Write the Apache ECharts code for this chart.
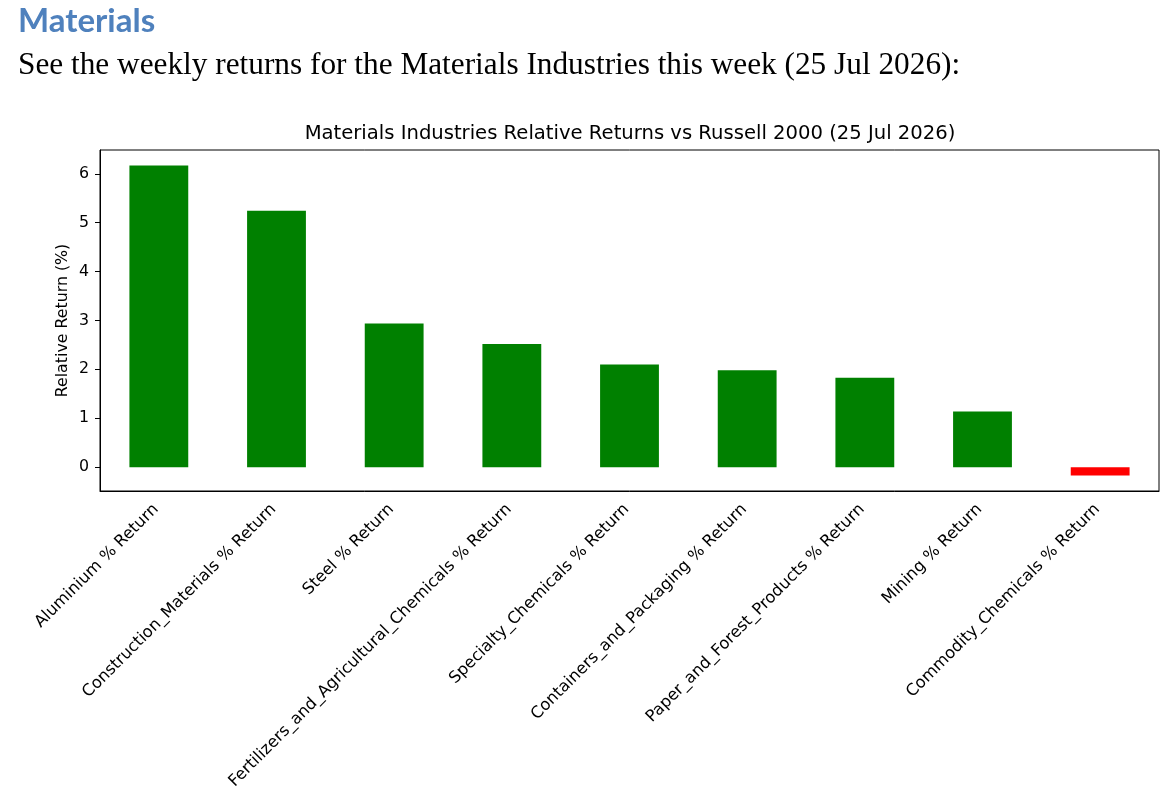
<!DOCTYPE html>
<html>
<head>
<meta charset="utf-8">
<script src="https://cdn.jsdelivr.net/npm/echarts@6/dist/echarts.min.js"></script>
<style>
  html, body { margin: 0; padding: 0; background: #fff; }
  #chart { width: 1168px; height: 806px; }
</style>
</head>
<body>
<div id="chart"></div>
<script>
// weekly relative returns
var categories = [
	'Aluminium % Return',
	'Construction_Materials % Return',
	'Steel % Return',
	'Fertilizers_and_Agricultural_Chemicals % Return',
	'Specialty_Chemicals % Return',
	'Containers_and_Packaging % Return',
	'Paper_and_Forest_Products % Return',
	'Mining % Return',
	'Commodity_Chemicals % Return'
];
var returns = [6.17, 5.245, 2.94, 2.52, 2.10, 1.98, 1.83, 1.14, -0.17];
var yTicks = [0, 1, 2, 3, 4, 5, 6];

var myChart = echarts.init(document.getElementById('chart'));

// matplotlib style 5% margin on the value axis
var lo = Math.min.apply(null, returns.concat([0]));
var hi = Math.max.apply(null, returns.concat([0]));
var pad = (hi - lo) * 0.05;

var barData = returns.map(function (v) {
	return { value: v, itemStyle: { color: v >= 0 ? '#008000' : '#ff0000' } };
});

var font = 'DejaVu Sans';

var option = {
	animation: false,
	backgroundColor: '#fff',
	title: [
		{
			text: 'Materials',
			left: 18, top: 5, padding: 0,
			textStyle: { fontFamily: 'Lato', fontWeight: 'bold', fontSize: 33, color: '#4f81bd' }
		},
		{
			text: 'See the weekly returns for the Materials Industries this week (25 Jul 2026):',
			left: 18, top: 50, padding: 0,
			textStyle: { fontFamily: 'Liberation Serif', fontWeight: 'normal', fontSize: 31.3, color: '#000' }
		},
		{
			text: 'Materials Industries Relative Returns vs Russell 2000 (25 Jul 2026)',
			left: 630, top: 124, textAlign: 'center', padding: 0,
			textStyle: { fontFamily: font, fontWeight: 'normal', fontSize: 19.6, color: '#000' }
		}
	],
	grid: {
		left: 100,
		right: 9,
		top: 150,
		bottom: 315,
		show: true,
		borderColor: '#000',
		borderWidth: 1,
		containLabel: false
	},
	xAxis: {
		type: 'category',
		data: categories,
		boundaryGap: true,
		axisLine: { onZero: false, lineStyle: { color: '#000', width: 1 } },
		axisTick: { alignWithLabel: true, length: 5, lineStyle: { color: '#000' } },
		axisLabel: {
			interval: 0,
			rotate: 45,
			margin: 13,
			padding: [0, 4, 0, 0],
			color: '#000',
			fontFamily: font,
			fontSize: 16.3
		},
		splitLine: { show: false }
	},
	yAxis: {
		type: 'value',
		min: lo - pad,
		max: hi + pad,
		name: 'Relative Return (%)',
		nameLocation: 'middle',
		nameGap: 29,
		nameMoveOverlap: false,
		nameTextStyle: { fontFamily: font, fontSize: 15.8, color: '#000' },
		axisLine: { show: true, lineStyle: { color: '#000', width: 1 } },
		axisTick: { show: true, length: 5, customValues: yTicks, lineStyle: { color: '#000' } },
		axisLabel: { customValues: yTicks, margin: 11, color: '#000', fontFamily: font, fontSize: 15.8 },
		splitLine: { show: false }
	},
	series: [
		{
			type: 'bar',
			data: barData,
			barWidth: '50%'
		}
	]
};
myChart.setOption(option);
</script>
</body>
</html>
